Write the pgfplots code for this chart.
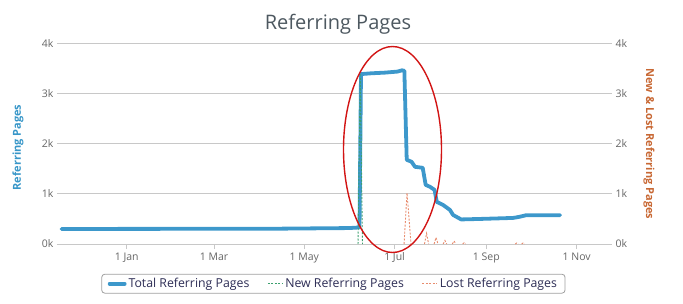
\documentclass[border=0pt]{standalone}
\usepackage{fontspec}
\setmainfont{Open Sans}
\usepackage{pgfplots}
\pgfplotsset{compat=1.18}
\definecolor{totalblue}{RGB}{61,152,203}
\definecolor{newgreen}{RGB}{60,160,110}
\definecolor{lostorange}{RGB}{232,140,110}
\definecolor{leftlab}{RGB}{55,150,200}
\definecolor{rightlab}{RGB}{200,104,52}
\definecolor{gridgray}{RGB}{200,200,200}
\definecolor{tickgray}{RGB}{102,102,102}
\definecolor{titlegray}{RGB}{77,88,96}
\definecolor{legtext}{RGB}{45,45,85}
\definecolor{ellred}{RGB}{210,20,20}
\pgfplotsset{
  newstyle/.style={newgreen, line width=0.9pt, dash pattern=on 2pt off 1.5pt},
  loststyle/.style={lostorange, line width=0.9pt, dash pattern=on 2pt off 1.5pt},
}
\begin{document}
\begin{tikzpicture}[x=1pt,y=1pt]
\path[use as bounding box] (-57,-59) rectangle (626,244);
\begin{axis}[
  scale only axis, width=555pt, height=200.5pt,
  xmin=-47.1, xmax=327.9, ymin=0, ymax=4000,
  axis x line*=bottom, axis y line*=left,
  y axis line style={draw=none},
  x axis line style={draw=gridgray, line width=0.8pt, -},
  xtick={0,59,120,181,243,304},
  xticklabels={1 Jan,1 Mar,1 May,1 Jul,1 Sep,1 Nov},
  xtick align=outside, major tick length=5pt,
  xtick style={draw=gridgray, line width=0.8pt},
  ytick={0,1000,2000,3000,4000}, yticklabels={0k,1k,2k,3k,4k},
  ytick style={draw=none},
  ymajorgrids, grid style={gridgray, line width=0.8pt},
  tick label style={font=\fontsize{10.5}{12}\selectfont, text=tickgray},
  legend style={at={(0.498,-0.198)}, anchor=center, draw=gridgray!80!black, rounded corners=3pt,
    font=\fontsize{12.3}{14}\selectfont, text=legtext, line width=0.8pt, inner xsep=6pt,
    /tikz/every even column/.append style={column sep=16pt}},
  legend columns=3, legend cell align=left,
  legend image code/.code={\draw[#1] (0pt,0pt) -- (15pt,0pt);},
]
\addplot[totalblue, line width=3.8pt, line join=round, line cap=round] coordinates {
(-44,300) (100,305) (150,318) (157.3,330) (158.3,3390) (165,3405) (175,3420) (183,3440) (186,3465) (187.6,3455)
(189.2,1680) (192.5,1640) (194.8,1540) (200,1520) (202,1180) (205,1140) (208,1080) (209.5,840)
(213.7,780) (218.4,680) (220.5,580) (226,490) (238.7,500) (261,520) (265,540) (270,575) (292.8,575)
};
\addlegendentry{Total Referring Pages}
\addlegendimage{newstyle}
\addlegendentry{New Referring Pages}
\addlegendimage{loststyle}
\addlegendentry{Lost Referring Pages}
\end{axis}
\begin{axis}[
  scale only axis, width=555pt, height=200.5pt,
  xmin=-47.1, xmax=327.9, ymin=0, ymax=4000,
  axis x line=none, axis y line*=right,
  y axis line style={draw=none},
  ytick={0,1000,2000,3000,4000}, yticklabels={0k,1k,2k,3k,4k},
  ytick style={draw=none},
  tick label style={font=\fontsize{10.5}{12}\selectfont, text=tickgray},
  unbounded coords=jump,
]
\addplot[newstyle] coordinates {
(156.3,0) (157.8,3400) (159.3,0)
};
\addplot[loststyle] coordinates {
(187.4,0) (189.4,1020) (192.1,0) (195,nan)
(201.2,0) (202.6,210) (204,0) (205,nan)
(207.7,0) (209,130) (210.3,0) (211,nan)
(213.8,0) (215,70) (216.2,0) (217,nan)
(220,0) (221.2,60) (222.4,0) (223,nan)
(227,0) (228,25) (229,0) (230,nan)
(262.5,0) (263.5,20) (264.5,0) (265,nan)
(266.8,0) (267.8,20) (268.8,0)
};
\end{axis}
\node[anchor=base, font=\fontsize{20}{24}\selectfont, text=titlegray] at (281,214) {Referring Pages};
\node[rotate=90, font=\bfseries\fontsize{11}{13}\selectfont, text=leftlab] at (-39,96.5) {Referring Pages};
\node[rotate=-90, font=\bfseries\fontsize{11}{13}\selectfont, text=rightlab] at (592,100) {New \& Lost Referring Pages};
\draw[ellred, line width=1.4pt] (335.5,94.5) ellipse [x radius=49, y radius=103];
\end{tikzpicture}
\end{document}
